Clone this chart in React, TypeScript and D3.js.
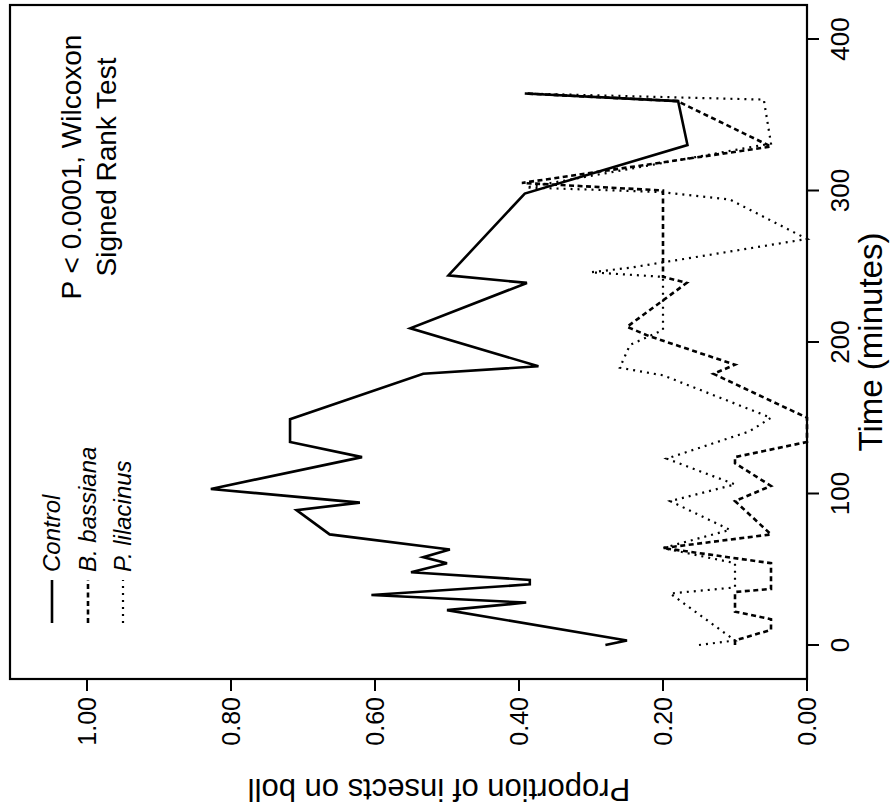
import React from 'react';
import * as d3 from 'd3';

const W = 895;
const H = 808;

const timeTicks = [0, 100, 200, 300, 400];
const propTicks = [0, 0.2, 0.4, 0.6, 0.8, 1.0];
const propTickLabels = ['0.00', '0.20', '0.40', '0.60', '0.80', '1.00'];

const controlTime = [0, 3, 23, 28, 33, 40, 43, 48, 54, 58, 63, 73, 89, 94, 103, 124, 134, 149, 179, 184, 209, 239, 244, 298, 330, 359, 364];
const controlProp = [0.28, 0.25, 0.5, 0.39, 0.605, 0.385, 0.385, 0.55, 0.5, 0.533, 0.496, 0.663, 0.709, 0.621, 0.828, 0.618, 0.718, 0.718, 0.533, 0.373, 0.551, 0.389, 0.498, 0.392, 0.166, 0.179, 0.392];

const bassianaTime = [0, 3, 10, 17, 22, 28, 35, 37, 54, 64, 73, 95, 105, 120, 124, 134, 150, 179, 185, 204, 210, 239, 243, 300, 305, 329, 359, 364];
const bassianaProp = [0.1, 0.1, 0.05, 0.05, 0.1, 0.1, 0.1, 0.05, 0.05, 0.2, 0.05, 0.1, 0.05, 0.1, 0.1, 0.0, 0.0, 0.13, 0.1, 0.22, 0.25, 0.167, 0.2, 0.2, 0.396, 0.05, 0.18, 0.39];

const lilacinusTime = [0, 3, 34, 38, 54, 64, 76, 95, 106, 123, 141, 150, 178, 183, 198, 208, 243, 246, 249, 268, 294, 299, 302, 331, 360, 364];
const lilacinusProp = [0.15, 0.1, 0.19, 0.1, 0.1, 0.2, 0.107, 0.19, 0.1, 0.195, 0.08, 0.05, 0.2, 0.26, 0.246, 0.2, 0.2, 0.3, 0.246, 0.0, 0.107, 0.204, 0.39, 0.05, 0.06, 0.39];

const seriesNames = ['Control', 'B. bassiana', 'P. lilacinus'];
const yAxisTitle = 'Proportion of insects on boll';
const xAxisTitle = 'Time (minutes)';
const noteLines = ['P < 0.0001, Wilcoxon', 'Signed Rank Test'];

const FONT = 'Liberation Sans, Arial, sans-serif';

export default function App() {
  // Chart drawn in unrotated coordinates (width H, height W), then rotated -90deg.
  const x = d3.scaleLinear().domain([0, 400]).range([163, 769]);
  const y = d3.scaleLinear().domain([0, 1]).range([807, 87]);

  const frameLeft = 129;
  const frameRight = 803;
  const frameTop = 10;
  const frameBottom = 807;

  const mk = (ts: number[], ps: number[]) =>
    d3.line<number>().x((_, i) => x(ts[i])).y((_, i) => y(ps[i])).curve(d3.curveLinear)(ts) || '';

  const series = [
    { name: seriesNames[0], d: mk(controlTime, controlProp), dash: undefined as string | undefined, w: 2.6 },
    { name: seriesNames[1], d: mk(bassianaTime, bassianaProp), dash: '5 3.5', w: 2.6 },
    { name: seriesNames[2], d: mk(lilacinusTime, lilacinusProp), dash: '2 5', w: 2.2 },
  ];

  return (
    <svg width={W} height={H} style={{ display: 'block', position: 'absolute', left: 0, top: 0, background: '#fff' }}>
      <rect x={0} y={0} width={W} height={H} fill="#fff" />
      <g transform={`translate(0,${H}) rotate(-90)`}>
        {/* frame */}
        <rect x={frameLeft} y={frameTop} width={frameRight - frameLeft} height={frameBottom - frameTop} fill="none" stroke="#000" strokeWidth={2.2} />
        {/* x axis ticks (time) */}
        {timeTicks.map((t) => (
          <g key={'t' + t}>
            <line x1={x(t)} x2={x(t)} y1={frameBottom} y2={frameBottom + 12} stroke="#000" strokeWidth={2} />
            <text x={x(t)} y={849} textAnchor="middle" fontFamily={FONT} fontSize={26} fill="#000">{t}</text>
          </g>
        ))}
        {/* y axis ticks (proportion) */}
        {propTicks.map((p, i) => (
          <g key={'p' + p}>
            <line x1={frameLeft} x2={frameLeft - 12} y1={y(p)} y2={y(p)} stroke="#000" strokeWidth={2} />
            <text x={111} y={y(p)} dy="0.35em" textAnchor="end" fontFamily={FONT} fontSize={25} fill="#000">{propTickLabels[i]}</text>
          </g>
        ))}
        {/* axis titles */}
        <text transform={`translate(29,439) rotate(-90)`} textAnchor="middle" fontFamily={FONT} fontSize={31} fill="#000">{yAxisTitle}</text>
        <text x={466} y={882} textAnchor="middle" fontFamily={FONT} fontSize={33} fill="#000">{xAxisTitle}</text>
        {/* series */}
        {series.map((s) => (
          <path key={s.name} d={s.d} fill="none" stroke="#000" strokeWidth={s.w} strokeDasharray={s.dash} strokeLinejoin="miter" />
        ))}
        {/* legend */}
        {series.map((s, i) => {
          const ly = [52, 88, 123][i];
          return (
            <g key={'lg' + i}>
              <line x1={185} x2={228} y1={ly} y2={ly} stroke="#000" strokeWidth={s.w} strokeDasharray={s.dash} />
              <text x={236} y={ly} dy="0.35em" fontFamily={FONT} fontStyle="italic" fontSize={24} fill="#000">{s.name}</text>
            </g>
          );
        })}
        {/* annotation */}
        {noteLines.map((l, i) => (
          <text key={'n' + i} x={641} y={[71, 106][i]} dy="0.35em" textAnchor="middle" fontFamily={FONT} fontSize={28} fill="#000">{l}</text>
        ))}
      </g>
    </svg>
  );
}
